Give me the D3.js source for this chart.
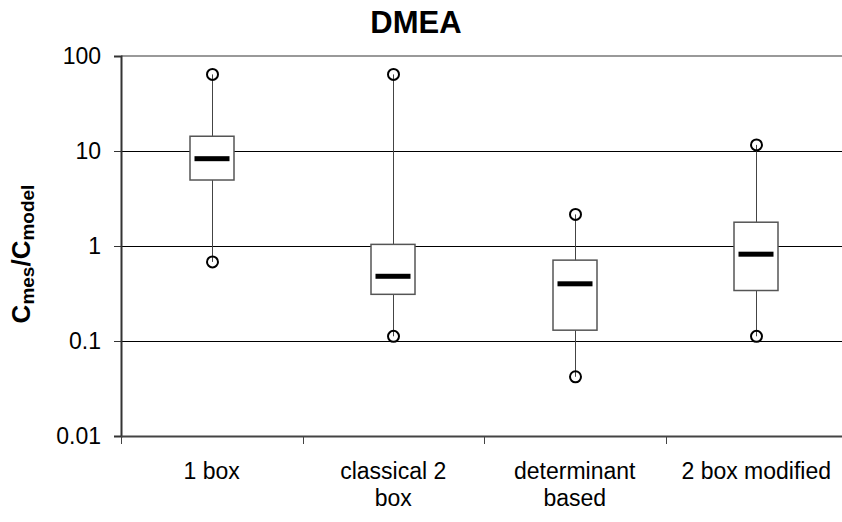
<!DOCTYPE html>
<html>
<head>
<meta charset="utf-8">
<script src="https://cdn.jsdelivr.net/npm/d3@7"></script>
<style>
  body { margin: 0; background: #fff; }
  text { font-family: "Liberation Sans", Arial, sans-serif; }
</style>
</head>
<body>
<div id="chart"></div>
<script>
var categories = ['1 box', 'classical 2 box', 'determinant based', '2 box modified'];
var tickLabels = [['1 box'], ['classical 2', 'box'], ['determinant', 'based'], ['2 box modified']];
var maxVals = [64, 64, 2.15, 11.6];
var q3Vals = [14.3, 1.04, 0.71, 1.78];
var medianVals = [8.3, 0.48, 0.40, 0.82];
var q1Vals = [4.95, 0.31, 0.13, 0.34];
var minVals = [0.68, 0.112, 0.042, 0.112];
var yTicks = [0.01, 0.1, 1, 10, 100];

var width = 842, height = 522;
var margin = { top: 56, left: 121, bottom: 86 };
var plotRight = 847;

var svg = d3.select('#chart').append('svg')
    .attr('width', width)
    .attr('height', height);

var x = d3.scaleBand()
    .domain(categories)
    .range([margin.left, plotRight]);

var y = d3.scaleLog()
    .domain([0.01, 100])
    .range([height - margin.bottom, margin.top]);

// gridlines
svg.append('g').selectAll('line')
    .data(yTicks.slice(1, 4))
    .enter().append('line')
    .attr('x1', margin.left).attr('x2', plotRight)
    .attr('y1', function(d) { return Math.round(y(d)) + 0.5; })
    .attr('y2', function(d) { return Math.round(y(d)) + 0.5; })
    .style('stroke', '#000')
    .style('stroke-width', 1);

// top border
svg.append('line')
    .attr('x1', margin.left).attr('x2', plotRight)
    .attr('y1', y(100)).attr('y2', y(100))
    .style('stroke', '#999')
    .style('stroke-width', 2);

// y axis
var yAxis = d3.axisLeft(y)
    .tickValues(yTicks)
    .tickFormat(function(d) { return d3.format('~g')(d); })
    .tickSize(7)
    .tickPadding(13);
var yG = svg.append('g')
    .attr('transform', 'translate(' + margin.left + ',0)')
    .call(yAxis);
yG.select('.domain').style('stroke', '#333').style('stroke-width', 2);
yG.selectAll('line').style('stroke', '#333');
yG.selectAll('text')
    .style('font-size', '23px')
    .style('fill', '#000');

// x axis
var xAxis = d3.axisBottom(x).tickSize(0).tickFormat('');
var xG = svg.append('g')
    .attr('transform', 'translate(0,' + y(0.01) + ')')
    .call(xAxis);
xG.select('.domain').style('stroke', '#444').style('stroke-width', 2);

svg.append('g').selectAll('line')
    .data(categories)
    .enter().append('line')
    .attr('x1', function(d) { return Math.round(x(d)) + 0.5; })
    .attr('x2', function(d) { return Math.round(x(d)) + 0.5; })
    .attr('y1', y(0.01))
    .attr('y2', y(0.01) + 8)
    .style('stroke', '#444')
    .style('stroke-width', 1);

var labels = svg.append('g').selectAll('text')
    .data(categories)
    .enter().append('text')
    .attr('text-anchor', 'middle')
    .style('font-size', '23px')
    .attr('x', function(d) { return x(d) + x.bandwidth() / 2; })
    .attr('y', 479);
labels.each(function(d, i) {
    var t = d3.select(this);
    tickLabels[i].forEach(function(line, j) {
        t.append('tspan')
            .attr('x', x(d) + x.bandwidth() / 2)
            .attr('dy', j === 0 ? 0 : 27)
            .text(line);
    });
});

// boxes
var boxW = 44, medW = 35;
var boxes = svg.append('g').selectAll('g')
    .data(categories)
    .enter().append('g')
    .attr('transform', function(d) {
        return 'translate(' + Math.round(x(d) + x.bandwidth() / 2) + ',0)';
    });

boxes.append('line')
    .attr('x1', 0.5).attr('x2', 0.5)
    .attr('y1', function(d, i) { return y(maxVals[i]); })
    .attr('y2', function(d, i) { return y(minVals[i]); })
    .style('stroke', '#444')
    .style('stroke-width', 1);

boxes.append('rect')
    .attr('x', -boxW / 2)
    .attr('width', boxW)
    .attr('y', function(d, i) { return y(q3Vals[i]); })
    .attr('height', function(d, i) { return y(q1Vals[i]) - y(q3Vals[i]); })
    .style('fill', '#fff')
    .style('stroke', '#555')
    .style('stroke-width', 1.5);

boxes.append('rect')
    .attr('x', -medW / 2)
    .attr('width', medW)
    .attr('y', function(d, i) { return y(medianVals[i]) - 2.5; })
    .attr('height', 5)
    .style('fill', '#000');

boxes.append('circle')
    .attr('cx', 0.5)
    .attr('cy', function(d, i) { return y(maxVals[i]); })
    .attr('r', 5.5)
    .style('fill', 'none')
    .style('stroke', '#000')
    .style('stroke-width', 2);

boxes.append('circle')
    .attr('cx', 0.5)
    .attr('cy', function(d, i) { return y(minVals[i]); })
    .attr('r', 5.5)
    .style('fill', 'none')
    .style('stroke', '#000')
    .style('stroke-width', 2);

// title
svg.append('text')
    .attr('x', 416)
    .attr('y', 33)
    .attr('text-anchor', 'middle')
    .style('font-size', '31px')
    .style('font-weight', 'bold')
    .text('DMEA');

// y label
var yl = svg.append('text')
    .attr('transform', 'translate(30,254) rotate(-90)')
    .attr('text-anchor', 'middle')
    .style('font-weight', 'bold')
    .style('font-size', '26px');
yl.append('tspan').text('C');
yl.append('tspan').attr('dy', 4).style('font-size', '19px').text('mes');
yl.append('tspan').attr('dy', -4).text('/C');
yl.append('tspan').attr('dy', 4).style('font-size', '19px').text('model');
</script>
</body>
</html>
